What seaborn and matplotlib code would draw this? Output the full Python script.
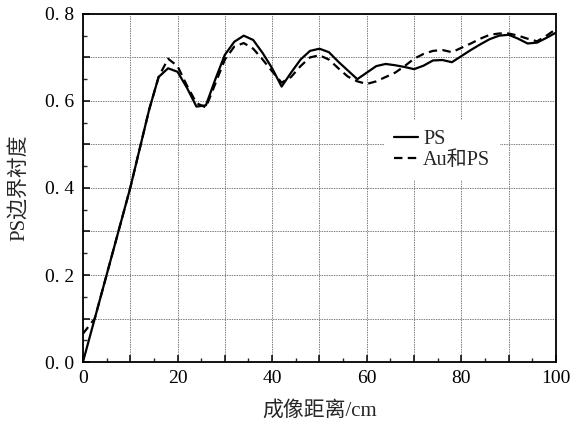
import numpy as np
import pandas as pd
import matplotlib
matplotlib.use("Agg")
import matplotlib.pyplot as plt
from matplotlib.ticker import MultipleLocator, FuncFormatter
import seaborn as sns

# Imaging distance (cm) and PS boundary contrast
dist_ps = [0, 5, 10, 14, 16, 18, 20, 22, 24, 26, 28, 30, 32, 34, 36, 38, 40, 42,
           44, 46, 48, 50, 52, 54, 56, 58, 60, 62, 64, 66, 68, 70, 72, 74, 76,
           78, 80, 82, 84, 86, 88, 90, 92, 94, 96, 98, 100]
contrast_ps = [0.0, 0.2, 0.4, 0.58, 0.655, 0.675, 0.667, 0.63, 0.587, 0.59,
               0.65, 0.706, 0.736, 0.75, 0.74, 0.71, 0.675, 0.633, 0.665,
               0.695, 0.715, 0.72, 0.712, 0.69, 0.67, 0.65, 0.665, 0.68,
               0.685, 0.682, 0.678, 0.673, 0.681, 0.693, 0.694, 0.689, 0.703,
               0.717, 0.73, 0.742, 0.75, 0.752, 0.743, 0.732, 0.734, 0.745,
               0.757]

dist_au = [0, 2.5, 5, 10, 14, 16, 18, 20, 22, 24, 26, 28, 30, 32, 34, 36, 38,
           40, 42, 44, 46, 48, 50, 52, 54, 56, 58, 60, 62, 64, 66, 68, 70, 72,
           74, 76, 78, 80, 82, 84, 86, 88, 90, 92, 94, 96, 98, 100]
contrast_au = [0.065, 0.1, 0.2, 0.4, 0.58, 0.655, 0.697, 0.68, 0.635, 0.595,
               0.585, 0.64, 0.695, 0.725, 0.733, 0.72, 0.695, 0.668, 0.642,
               0.655, 0.68, 0.70, 0.705, 0.695, 0.675, 0.656, 0.645, 0.639,
               0.645, 0.655, 0.665, 0.68, 0.697, 0.708, 0.715, 0.717, 0.712,
               0.722, 0.732, 0.743, 0.752, 0.755, 0.755, 0.75, 0.743, 0.737,
               0.75, 0.765]

series_names = ["PS", "Au和PS"]

df = pd.concat([
    pd.DataFrame({"dist": dist_ps, "contrast": contrast_ps, "series": series_names[0]}),
    pd.DataFrame({"dist": dist_au, "contrast": contrast_au, "series": series_names[1]}),
], ignore_index=True)

sns.set_style("ticks")
plt.rcParams["font.family"] = ["Liberation Serif", "Noto Sans CJK SC", "DejaVu Sans"]
plt.rcParams["axes.unicode_minus"] = False

fig = plt.figure(figsize=(5.84, 4.21), dpi=100)
ax = fig.add_axes([0.142, 0.140, 0.810, 0.827])

sns.lineplot(data=df, x="dist", y="contrast", style="series",
             style_order=series_names, dashes={"PS": "", "Au和PS": (3.8, 2.4)},
             color="black", linewidth=1.6, sort=False, estimator=None, ax=ax)

ax.set_xlim(0, 100)
ax.set_ylim(0, 0.8)

ax.xaxis.set_major_locator(MultipleLocator(10))
ax.xaxis.set_minor_locator(MultipleLocator(5))
ax.yaxis.set_major_locator(MultipleLocator(0.1))
ax.yaxis.set_minor_locator(MultipleLocator(0.05))

ax.xaxis.set_major_formatter(FuncFormatter(
    lambda v, p: f"{v:.0f}" if round(v) % 20 == 0 else ""))
ax.yaxis.set_major_formatter(FuncFormatter(
    lambda v, p: f"{v:.1f}".replace(".", ". ") if round(v * 10) % 2 == 0 else ""))

ax.tick_params(which="major", direction="in", length=5, width=1.1,
               labelsize=14, colors="black", pad=6, top=False, right=False)
ax.tick_params(which="minor", direction="in", length=3, width=1.0,
               top=False, right=False)

ax.grid(True, which="major", color="0.5", linestyle=(0, (1.5, 1)), linewidth=0.7)

for s in ax.spines.values():
    s.set_visible(True)
    s.set_linewidth(1.3)
    s.set_color("black")

ax.set_xlabel("成像距离/cm", fontsize=15, labelpad=10)
ax.set_ylabel("PS边界衬度", fontsize=15, labelpad=12)

leg = ax.legend(loc="upper left", bbox_to_anchor=(0.615, 0.725),
                frameon=True, facecolor="white", edgecolor="none",
                framealpha=1, fontsize=14.5, handlelength=1.2,
                handletextpad=0.25, labelspacing=0.1, borderpad=0.5,
                fancybox=False, title=None)

fig.savefig("out.png", dpi=100)
